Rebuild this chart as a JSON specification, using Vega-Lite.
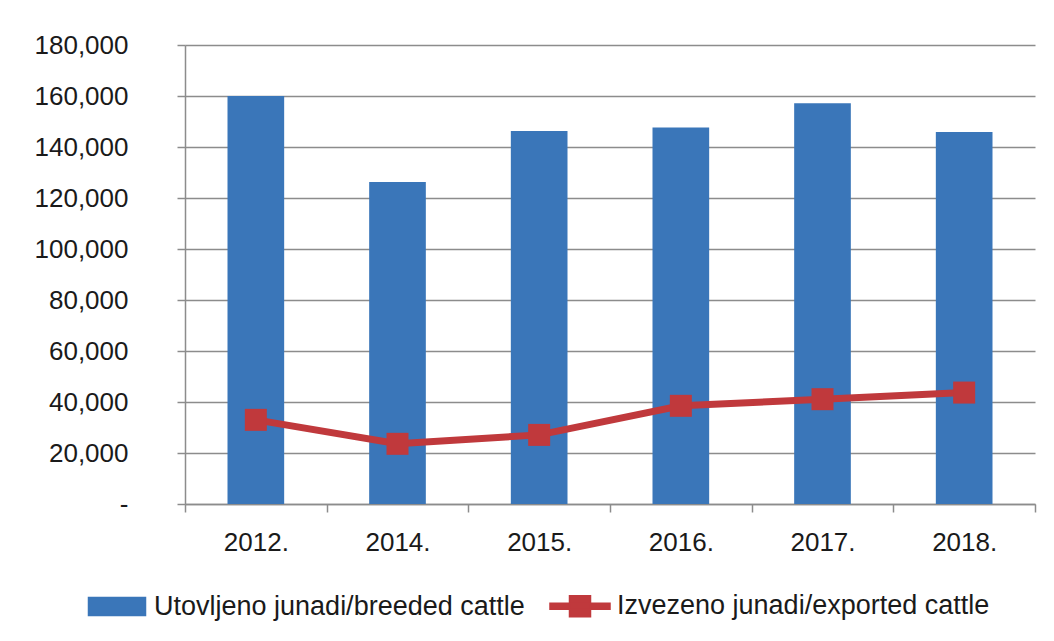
{
  "$schema": "https://vega.github.io/schema/vega-lite/v6.json",
  "width": 850,
  "height": 459,
  "autosize": "none",
  "padding": {"left": 185, "top": 45, "right": 19, "bottom": 137},
  "background": "white",
  "data": {
    "values": [
      {"year": "2012.", "series": "Utovljeno junadi/breeded cattle", "value": 160000},
      {"year": "2014.", "series": "Utovljeno junadi/breeded cattle", "value": 126300},
      {"year": "2015.", "series": "Utovljeno junadi/breeded cattle", "value": 146300},
      {"year": "2016.", "series": "Utovljeno junadi/breeded cattle", "value": 147600},
      {"year": "2017.", "series": "Utovljeno junadi/breeded cattle", "value": 157200},
      {"year": "2018.", "series": "Utovljeno junadi/breeded cattle", "value": 145900},
      {"year": "2012.", "series": "Izvezeno junadi/exported cattle", "value": 33000},
      {"year": "2014.", "series": "Izvezeno junadi/exported cattle", "value": 23600},
      {"year": "2015.", "series": "Izvezeno junadi/exported cattle", "value": 27100},
      {"year": "2016.", "series": "Izvezeno junadi/exported cattle", "value": 38500},
      {"year": "2017.", "series": "Izvezeno junadi/exported cattle", "value": 41100},
      {"year": "2018.", "series": "Izvezeno junadi/exported cattle", "value": 43700}
    ]
  },
  "encoding": {
    "x": {
      "field": "year",
      "type": "nominal",
      "sort": null,
      "scale": {"paddingInner": 0, "paddingOuter": 0},
      "axis": {
        "title": null,
        "tickBand": "extent",
        "tickSize": 8,
        "tickColor": "#8c8c8c",
        "tickWidth": 1.5,
        "domainColor": "#8c8c8c",
        "domainWidth": 1.5,
        "labelAngle": 0,
        "labelPadding": 17,
        "labelFontSize": 26,
        "labelColor": "#1a1a1a",
        "grid": false
      }
    },
    "y": {
      "field": "value",
      "type": "quantitative",
      "scale": {"domain": [0, 180000], "nice": false},
      "axis": {
        "title": null,
        "values": [0, 20000, 40000, 60000, 80000, 100000, 120000, 140000, 160000, 180000],
        "labelExpr": "datum.value == 0 ? '-\u00a0\u00a0' : format(datum.value, ',')",
        "grid": true,
        "gridColor": "#8c8c8c",
        "gridWidth": 1.5,
        "domainColor": "#8c8c8c",
        "domainWidth": 1.5,
        "tickColor": "#8c8c8c",
        "tickWidth": 1.5,
        "tickSize": 8,
        "labelPadding": 49,
        "labelFontSize": 26,
        "labelColor": "#1a1a1a"
      }
    },
    "color": {
      "field": "series",
      "type": "nominal",
      "scale": {
        "domain": ["Utovljeno junadi/breeded cattle", "Izvezeno junadi/exported cattle"],
        "range": ["#3a76b9", "#c0393c"]
      },
      "legend": {
        "orient": "none",
        "legendX": -99,
        "legendY": 530,
        "direction": "horizontal",
        "title": null,
        "padding": 0,
        "symbolSize": 3600,
        "labelFontSize": 27,
        "labelColor": "#1a1a1a",
        "labelLimit": 0,
        "labelOffset": 6,
        "columnPadding": 22,
        "encode": {
          "symbols": {
            "update": {
              "shape": {"signal": "datum.value === 'Utovljeno junadi/breeded cattle' ? 'M-0.95,-0.3H0.95V0.3H-0.95Z' : 'M-1,-0.1H1V0.1H-1Z M-0.35,-0.35H0.35V0.35H-0.35Z'"},
              "fill": {"scale": "color", "field": "value"},
              "stroke": {"value": "transparent"},
              "opacity": {"value": 1},
              "fillOpacity": {"value": 1},
              "size": {"value": 3600}
            }
          }
        }
      }
    }
  },
  "layer": [
    {
      "transform": [{"filter": "datum.series === 'Utovljeno junadi/breeded cattle'"}],
      "mark": {"type": "bar", "width": {"band": 0.4}}
    },
    {
      "transform": [{"filter": "datum.series === 'Izvezeno junadi/exported cattle'"}],
      "mark": {
        "type": "line",
        "strokeWidth": 7,
        "point": {"shape": "square", "size": 484, "filled": true, "opacity": 1}
      }
    }
  ],
  "config": {
    "view": {"stroke": null},
    "font": "Liberation Sans"
  }
}
